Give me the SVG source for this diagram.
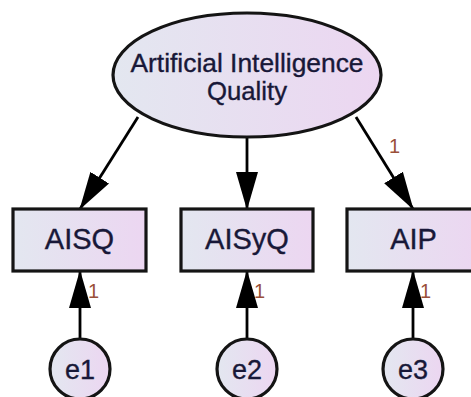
<svg xmlns="http://www.w3.org/2000/svg" width="471" height="397" viewBox="0 0 471 397">
  <defs>
    <linearGradient id="fillGrad" x1="0" y1="0" x2="1" y2="0">
      <stop offset="0" stop-color="#e3e7f0"/>
      <stop offset="1" stop-color="#ecd6f1"/>
    </linearGradient>
    <marker id="head" markerUnits="userSpaceOnUse" markerWidth="38" markerHeight="23" refX="37" refY="11.5" orient="auto">
      <path d="M0,0.5 L38,11.5 L0,22.5 z" fill="#000"/>
    </marker>
    <style>
      .shape { fill: url(#fillGrad); stroke: #141414; stroke-width: 3.2; }
      .lbl { font-family: "Liberation Sans", Arial, sans-serif; fill: #181838; stroke: #181838; stroke-width: 0.35; text-anchor: middle; }
      .edge { stroke: #000; stroke-width: 2.8; fill: none; marker-end: url(#head); }
      .w { font-family: "Liberation Sans", Arial, sans-serif; font-size: 20px; fill: #9a5038; }
    </style>
  </defs>

  <g id="connectors">
    <line class="edge" x1="138" y1="117" x2="80" y2="209"/>
    <line class="edge" x1="247" y1="137" x2="247" y2="209"/>
    <line class="edge" x1="356" y1="117" x2="413" y2="209"/>
    <line class="edge" x1="80" y1="339" x2="80" y2="271"/>
    <line class="edge" x1="247" y1="339" x2="247" y2="271"/>
    <line class="edge" x1="413" y1="339" x2="413" y2="271"/>
    <text class="w" x="389" y="153">1</text>
    <text class="w" x="88" y="298">1</text>
    <text class="w" x="254" y="298">1</text>
    <text class="w" x="420" y="298">1</text>
  </g>

  <g id="AIQ">
    <ellipse class="shape" cx="247" cy="75" rx="134" ry="62"/>
    <text class="lbl" x="247" y="72" font-size="25" textLength="233" lengthAdjust="spacingAndGlyphs">Artificial Intelligence</text>
    <text class="lbl" x="247" y="100" font-size="25" textLength="80" lengthAdjust="spacingAndGlyphs">Quality</text>
  </g>

  <g id="AISQ">
    <rect class="shape" x="13" y="209" width="133" height="62"/>
    <text class="lbl" x="79.5" y="249" font-size="29">AISQ</text>
  </g>
  <g id="AISyQ">
    <rect class="shape" x="181" y="209" width="132" height="62"/>
    <text class="lbl" x="247" y="249" font-size="29">AISyQ</text>
  </g>
  <g id="AIP">
    <rect class="shape" x="347" y="209" width="133" height="62"/>
    <text class="lbl" x="413.5" y="249" font-size="29">AIP</text>
  </g>

  <g id="e1">
    <circle class="shape" cx="80" cy="369" r="30"/>
    <text class="lbl" x="80" y="379" font-size="27">e1</text>
  </g>
  <g id="e2">
    <circle class="shape" cx="247" cy="369" r="30"/>
    <text class="lbl" x="247" y="379" font-size="27">e2</text>
  </g>
  <g id="e3">
    <circle class="shape" cx="413" cy="369" r="30"/>
    <text class="lbl" x="413" y="379" font-size="27">e3</text>
  </g>
</svg>
